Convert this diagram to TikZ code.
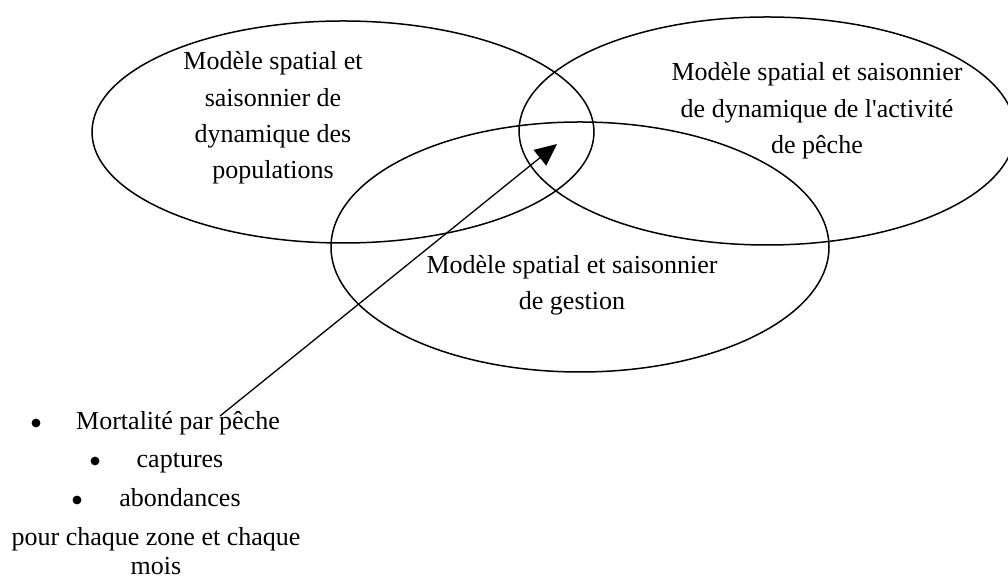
\documentclass[tikz,border=0pt]{standalone}
\usepackage{fontspec}
\setmainfont{Liberation Serif}
\usetikzlibrary{arrows.meta}

\begin{document}
\begin{tikzpicture}[x=0.5pt, y=-0.5pt,
    zone/.style={line width=0.75pt},
    zonetext/.style={align=center, inner sep=0pt, font=\fontsize{13}{18.2}\selectfont},
    listtext/.style={anchor=base, inner sep=0pt, font=\fontsize{13}{18}\selectfont},
    dot/.style={circle, fill, inner sep=0pt, minimum size=4.4pt}]
    \useasboundingbox (0,0) rectangle (1008,581);

    % Three models
    \draw[zone] (343,132) ellipse [x radius=251, y radius=111];
    \draw[zone] (767,131) ellipse [x radius=248, y radius=114];
    \draw[zone] (580,247) ellipse [x radius=249, y radius=125];

    \node[zonetext] (pop) at (273,118) {Modèle spatial et\\saisonnier de\\dynamique des\\populations};
    \node[zonetext] (peche) at (817,111) {Modèle spatial et saisonnier\\de dynamique de l\textquotesingle activité\\de pêche};
    \node[zonetext] (gest) at (572,285) {Modèle spatial et saisonnier\\de gestion};

    % Outputs
    \node[dot] (b1) at (36,423) {};
    \node[listtext] (mort) at (178,430) {Mortalité par pêche};
    \node[dot] (b2) at (95,461) {};
    \node[listtext] (capt) at (180,468) {captures};
    \node[dot] (b3) at (77,500) {};
    \node[listtext] (abon) at (180,507) {abondances};
    \node[listtext] (zone) at (156,546) {pour chaque zone et chaque};
    \node[listtext] (mois) at (156,575) {mois};

    % Arrow into the overlap
    \coordinate (src) at (220,416);
    \coordinate (tip) at (557,144);
    \draw[-{Triangle[length=11pt,width=10pt]}, line width=0.65pt] (src) -- (tip);
\end{tikzpicture}
\end{document}
